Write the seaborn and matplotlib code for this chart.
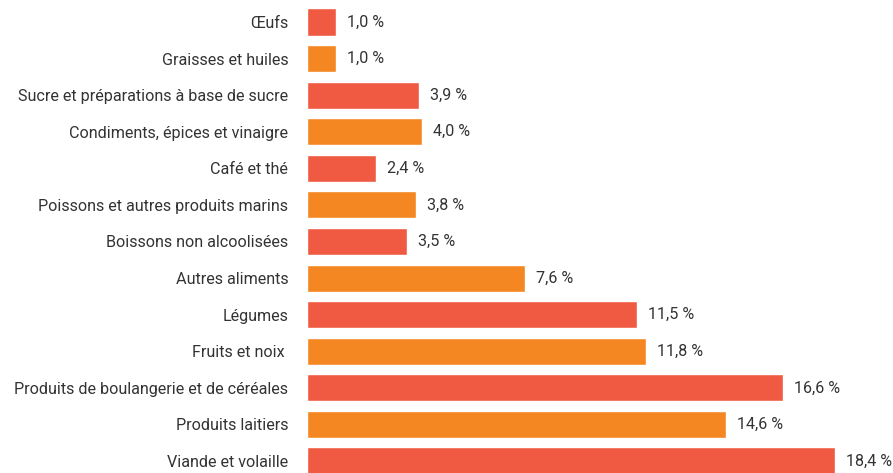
import matplotlib
matplotlib.use("Agg")
import matplotlib.pyplot as plt
import pandas as pd
import seaborn as sns

categories = [
    "Œufs",
    "Graisses et huiles",
    "Sucre et préparations à base de sucre",
    "Condiments, épices et vinaigre",
    "Café et thé",
    "Poissons et autres produits marins",
    "Boissons non alcoolisées",
    "Autres aliments",
    "Légumes",
    "Fruits et noix ",
    "Produits de boulangerie et de céréales",
    "Produits laitiers",
    "Viande et volaille",
]
values = [1.0, 1.0, 3.9, 4.0, 2.4, 3.8, 3.5, 7.6, 11.5, 11.8, 16.6, 14.6, 18.4]

RED = "#F05A43"
ORANGE = "#F58722"
TEXT = "#333333"

sns.set_theme(style="white")
plt.rcParams["font.family"] = ["Roboto", "DejaVu Sans"]

df = pd.DataFrame({"cat": categories, "val": values})
palette = [RED if i % 2 == 0 else ORANGE for i in range(len(categories))]

fig = plt.figure(figsize=(8.93, 4.73), dpi=100)
ax = fig.add_axes([307 / 893, 0, 1 - 307 / 893, 1])
sns.barplot(data=df, x="val", y="cat", hue="cat", palette=palette, legend=False,
            width=0.74, ax=ax, orient="h", saturation=1)

ax.set_xlim(0, (893 - 307) / 28.7)
ax.set_ylim(12.328, -0.601)
ax.set_xlabel("")
ax.set_ylabel("")
ax.set_xticks([])
for s in ax.spines.values():
    s.set_visible(False)
ax.tick_params(axis="y", length=0, pad=13.5, labelsize=11.6, labelcolor=TEXT)

for i, v in enumerate(values):
    ax.text(v + 0.38, i, f"{v:.1f} %".replace(".", ","), va="center", ha="left",
            fontsize=11.6, color=TEXT)

fig.savefig("out.png", dpi=100)
